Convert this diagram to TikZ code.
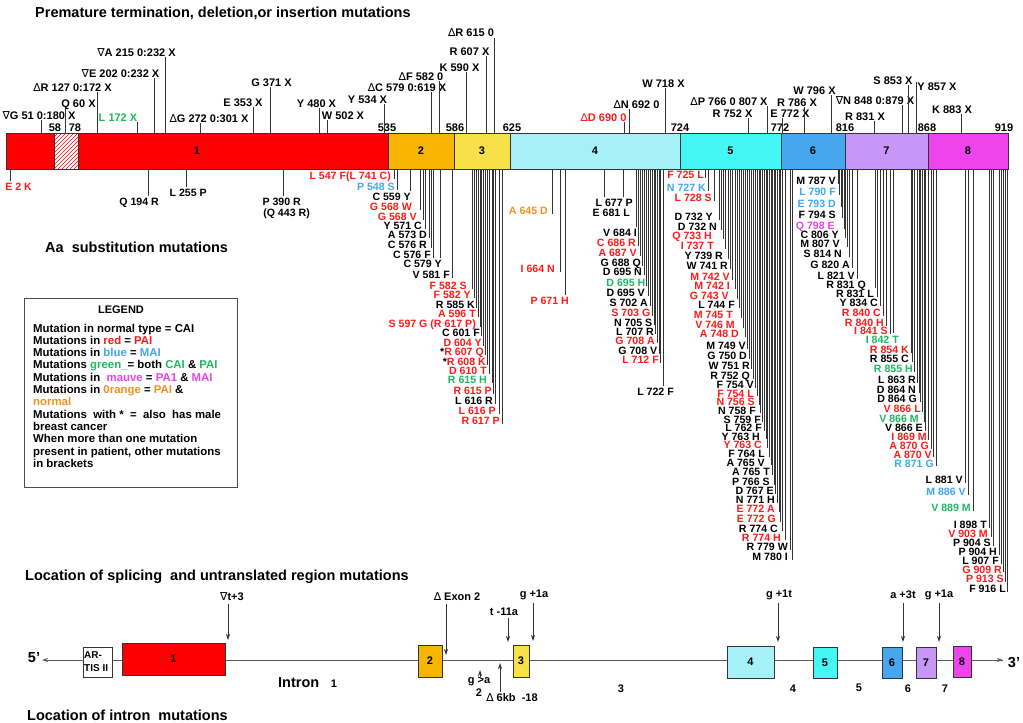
\documentclass[tikz,border=0pt]{standalone}
\usepackage{fontspec}
\setmainfont{Liberation Sans}
\newfontfamily\dvs{DejaVu Sans}
\usetikzlibrary{arrows.meta}
\definecolor{exred}{HTML}{FF0000}
\definecolor{exorange}{HTML}{F7B400}
\definecolor{exyellow}{HTML}{F8E04A}
\definecolor{exlblue}{HTML}{A6F0FA}
\definecolor{excyan}{HTML}{44F6F6}
\definecolor{exblue}{HTML}{46A6EE}
\definecolor{exmauve}{HTML}{C896F6}
\definecolor{exmag}{HTML}{EE44EE}
\definecolor{tred}{HTML}{FF1A1A}
\definecolor{tblue}{HTML}{40A8F0}
\definecolor{tgreen}{HTML}{20B860}
\definecolor{tmag}{HTML}{E844E8}
\definecolor{torange}{HTML}{F5901E}
\definecolor{lgray}{HTML}{333333}
\newcommand\Dl{{\dvs\mdseries ∆}}
\newcommand\Nb{{\dvs\mdseries ∇}}
\begin{document}
\begin{tikzpicture}[x=1pt,y=-1pt,
  font=\fontsize{11}{12}\selectfont\bfseries,
  mlab/.style={inner sep=0pt, anchor=base east, font=\fontsize{10.6}{11}\selectfont\bfseries, text height=7.4pt, text depth=0pt},
  ulab/.style={inner sep=0pt, anchor=base, text height=7.6pt, text depth=0pt},
  mline/.style={draw=lgray, line width=0.7pt},
  seg/.style={draw=lgray, line width=0.8pt, minimum height=36pt, inner sep=0pt, outer sep=0pt},
  bx/.style={draw=lgray, line width=0.8pt, inner sep=0pt, outer sep=0pt},
  ttl/.style={font=\fontsize{14.5}{16}\selectfont\bfseries, anchor=base west, inner sep=0pt},
  leg/.style={inner sep=0pt, anchor=base west, font=\fontsize{11.4}{12}\selectfont\bfseries, text height=8pt, text depth=0pt},
  gline/.style={draw=black!65, line width=1pt},
  arr/.style={draw=black!80, line width=0.8pt, -{Stealth[length=6pt,width=4pt]}}]
\useasboundingbox (0,0) rectangle (1023,723);
\fill[white] (0,0) rectangle (1023,723);

% titles
\node[ttl] (t1) at (35,17) {Premature termination, deletion,or insertion mutations};
\node[ttl] (t2) at (45,252) {Aa\ \ substitution mutations};
\node[ttl] (t3) at (25,580) {Location of splicing\ \ and untranslated region mutations};
\node[ttl] (t4) at (27,720) {Location of intron\ \ mutations};

% main bar
\node[seg, fill=exred, minimum width=382pt] (e1) at (197,151) {1};
\node[seg, fill=exorange, minimum width=66pt] (e2) at (421,151) {2};
\node[seg, fill=exyellow, minimum width=56pt] (e3) at (482,151) {3};
\node[seg, fill=exlblue, minimum width=170pt] (e4) at (595,151) {4};
\node[seg, fill=excyan, minimum width=101pt] (e5) at (730.5,151) {5};
\node[seg, fill=exblue, minimum width=64pt] (e6) at (813,151) {6};
\node[seg, fill=exmauve, minimum width=83pt] (e7) at (886.5,151) {7};
\node[seg, fill=exmag, minimum width=80pt] (e8) at (968,151) {8};
\fill[white] (54,133) rectangle (78,169);
\begin{scope}
\clip (54,133) rectangle (78,169);
\foreach \k in {0,...,16} \draw[exred, line width=0.7pt] ({18+\k*4},169) -- ++(36,-36);
\end{scope}
\draw[lgray, line width=0.8pt] (54,133) rectangle (78,169);

% boundary numbers
\foreach \bx/\bt [count=\i] in {55/58,75/78,387/535,455/586,512/625,680/724,780/772,845/816,927/868,1004/919}
  \node[ulab] (n\i) at (\bx,131) {\bt};

% upper labels
\foreach \cx/\cy/\lx/\ly/\col/\lab [count=\i] in {
39/115/41/120/black/{\Nb G 51 0:180 X},
78.5/103/65/108/black/{Q 60 X},
72.5/87/97/92/black/{\Dl R 127 0:172 X},
118/117/137/122/tgreen/{L 172 X},
120.5/73/154/78/black/{\Nb E 202 0:232 X},
136.5/52/165/57/black/{\Nb A 215 0:232 X},
209/118/200/123/black/{\Dl G 272 0:301 X},
243/102/253/107/black/{E 353 X},
271.5/82/270/87/black/{G 371 X},
316.5/103/319/108/black/{Y 480 X},
343/115/327/120/black/{W 502 X},
367.5/99/384/104/black/{Y 534 X},
407/87/431/92/black/{\Dl C 579 0:619 X},
421/76/439/81/black/{\Dl F 582 0},
459.5/67/466/72/black/{K 590 X},
469.5/51/486/56/black/{R 607 X},
471/32/494/38/black/{\Dl R 615 0},
663.5/83/665/88/black/{W 718 X},
636.5/104/629/109/black/{\Dl N 692 0},
603.5/117/624/122/tred/{\Dl D 690 0},
729/101/767/106/black/{\Dl P 766 0 807 X},
732.5/113/748/118/black/{R 752 X},
790/113/782/118/black/{E 772 X},
797/102/804/107/black/{R 786 X},
814.5/90/831/95/black/{W 796 X},
875/100/902/105/black/{\Nb N 848 0:879 X},
893/80/908/85/black/{S 853 X},
937/86/916/82/black/{Y 857 X},
865/116/874/121/black/{R 831 X},
952/109/961/114/black/{K 883 X}}
{
  \node[ulab, text=\col] (u\i) at (\cx,\cy+4) {\lab};
  \draw[mline] (\lx,\ly) -- (\lx,133);
}

% lower (substitution) labels
\foreach \lx/\ey/\rx/\yy/\col/\lab [count=\i] in {
10/181/32/187/tred/{E 2 K},
148/196/159/202/black/{Q 194 R},
186/187/207/193/black/{L 255 P},
283/196/301/202/black/{P 390 R},
394/179/391/176/tred/{L 547 F(L 741 C)},
397/190/395/187/tblue/{P 548 S},
410/191/411/197/black/{C 559 Y},
420/210/412/207/tred/{G 568 W},
423/220/417/217/tred/{G 568 V},
425/229/422/226/black/{Y 571 C},
429/238/427/235/black/{A 573 D},
431/248/427/245/black/{C 576 R},
433/258/431/255/black/{C 576 F},
440/258/442/264/black/{C 579 Y},
452/278/450/275/black/{V 581 F},
472.7/289/467/286/tred/{F 582 S},
474.7/298/471/295/tred/{F 582 Y},
476.7/308/475/305/black/{R 585 K},
478.3/317/476/314/tred/{A 596 T},
480/327/476/324/tred/{S 597 G (R 617 P)},
481.3/336/480/333/black/{C 601 F},
483.3/346/482/343/tred/{D 604 Y},
485.7/355/484/352/tred/{{\color{black}*}R 607 Q},
487.3/365/486/362/tred/{{\color{black}*}R 608 K},
489/374/487/371/tred/{D 610 T},
492/383/487/380/tgreen/{R 615 H},
493.3/394/492/391/tred/{R 615 P},
495/404/493/401/black/{L 616 R},
499/414/496/411/tred/{L 616 P},
502.3/424/500/421/tred/{R 617 P},
552/214/548/211/torange/{A 645 D},
560/272/555/269/tred/{I 664 N},
565.7/295/569/301/tred/{P 671 H},
604.7/197/633/203/black/{L 677 P},
623/197/630/213/black/{E 681 L},
636/227/637/233/black/{V 684 I},
638.3/246/636/243/tred/{C 686 R},
640.7/256/637/253/tred/{A 687 V},
642.7/266/641/263/black/{G 688 Q},
644.3/275/642/272/black/{D 695 N},
646.7/286/645.5/283/tgreen/{D 695 H},
648.3/296/645/293/black/{D 695 V},
650/306/648/303/black/{S 702 A},
652/316/650.5/313/tred/{S 703 G},
654/325/652.5/322.2/black/{N 705 S},
655.7/334/654/331.2/black/{L 707 R},
657.3/343/655/340.2/tred/{G 708 A},
659/354/657.5/351/black/{G 708 V},
660.7/363/659/360/tred/{L 712 F},
663.3/386/674/392/black/{L 722 F},
705.7/178/704/175/tred/{F 725 L},
708.3/191/706/188/tblue/{N 727 K},
714/201/712/198/tred/{L 728 S},
719/220/713/217/black/{D 732 Y},
721/230/717/227/black/{D 732 N},
723.3/239/712/236/tred/{Q 733 H},
725.7/249/714/246/tred/{I 737 T},
728.3/259/723/256/black/{Y 739 R},
730/269/728/266/black/{W 741 R},
732.3/280/730/277/tred/{M 742 V},
735/289/730/286/tred/{M 742 I},
737.3/299/729/296/tred/{G 743 V},
739.3/308/735/305/black/{L 744 F},
741/318/733/315/tred/{M 745 T},
743.3/328/735/325/tred/{V 746 M},
745/337/739/334/tred/{A 748 D},
747.7/349/746/346/black/{M 749 V},
749.3/359/747/356/black/{G 750 D},
751.7/369/750/366/black/{W 751 R},
753.7/379/750/376/black/{R 752 Q},
755.7/388/754/384.8/black/{F 754 V},
757.7/396/754/393.4/tred/{F 754 L},
759/405/755/402/tred/{N 756 S},
760.7/413/756/410.6/black/{N 758 F},
762.7/422/761/419.2/black/{S 759 F},
764/431/762/427.8/black/{L 762 F},
766/439/760/436.4/black/{Y 763 H},
767.3/448/762/445/tred/{Y 763 C},
769/457/765/453.5/black/{F 764 L},
771/465/765/462.5/black/{A 765 V},
772.3/475/770/472/black/{A 765 T},
774/485/770/482/black/{P 766 S},
775.7/494/774/491/black/{D 767 E},
777.3/503/775/500/black/{N 771 H},
779/512/775/509/tred/{E 772 A},
780.7/522/776/519/tred/{E 772 G},
782.3/531/778/528.6/black/{R 774 C},
785.7/540/781/537.6/tred/{R 774 H},
790/550/788/547/black/{R 779 W},
792.7/560/788/557/black/{M 780 I},
838/184/836/181/black/{M 787 V},
839.5/195/836/192/tblue/{L 790 F},
841/207/836/204/tblue/{E 793 D},
842.5/218/836/215/black/{F 794 S},
844/229/835/226/tmag/{Q 798 E},
845.5/238/839/235/black/{C 806 Y},
847/247/840/244/black/{M 807 V},
849/257/842/254/black/{S 814 N},
852/268/850/265/black/{G 820 A},
857/279/855/276/black/{L 821 V},
875/288/866/285/black/{R 831 Q},
877/297/874/294/black/{R 831 L},
880/306/878/303/black/{Y 834 C},
883/316/881/313/tred/{R 840 C},
886/326/884/322.4/tred/{R 840 H},
890/334/888/331.1/tred/{I 841 S},
893/333/899/340.1/tgreen/{I 842 T},
911/353/909/350/tred/{R 854 K},
912.5/362/909/359/black/{R 855 C},
914.5/372/913/369/tgreen/{R 855 H},
917.5/383/916/380/black/{L 863 R},
919/393/916/390/black/{D 864 N},
920.5/402/917/399/black/{D 864 G},
922.5/412/921/409/tred/{V 866 L},
924/422/919/419/tgreen/{V 866 M},
925.5/431/923/428/black/{V 866 E},
928.5/440/927/437/tred/{I 869 M},
931/449/929/446/tred/{A 870 G},
933.5/457/932/454.5/tred/{A 870 V},
936/466/934/463.5/tblue/{R 871 G},
965/483/963/480/black/{L 881 V},
968/495/966/492/tblue/{M 886 V},
973/511/971/508/tgreen/{V 889 M},
989/528/987/525/black/{I 898 T},
991/537/988/534/tred/{V 903 M},
993/546/991/543/black/{P 904 S},
999/555/997/552/black/{P 904 H},
1001/564/999/560.5/black/{L 907 F},
1003.5/572/1002/569.5/tred/{G 909 R},
1005.5/582/1004/579/tred/{P 913 S},
1007.5/592/1006/589/black/{F 916 L}}
{
  \draw[mline] (\lx,169) -- (\lx,\ey);
  \node[mlab, text=\col] (m\i) at (\rx,\yy+3.8) {\lab};
}
\node[mlab] (q443) at (310,216.8) {(Q 443 R)};

% legend
\node[draw=black!70, line width=0.8pt, minimum width=213pt, minimum height=189pt, inner sep=0pt, anchor=north west] (legend) at (24,298) {};
\node[inner sep=0pt] (legt) at (121,310) {LEGEND};
\node[leg] (l1) at (33,332) {Mutation in normal type = CAI};
\node[leg] (l2) at (33,344.3) {Mutations in {\color{tred}red} = {\color{tred}PAI}};
\node[leg] (l3) at (33,356.6) {Mutations in {\color{tblue}blue} = {\color{tblue}MAI}};
\node[leg] (l4) at (33,368.9) {Mutations {\color{tgreen}green\_}= both {\color{tgreen}CAI} \& {\color{tgreen}PAI}};
\node[leg] (l5) at (33,381.2) {Mutations in\ \ {\color{tmag}mauve} = {\color{tmag}PA1} \& {\color{tmag}MAI}};
\node[leg] (l6) at (33,393.5) {Mutations in {\color{torange}0range} = {\color{torange}PAI} \&};
\node[leg] (l7) at (33,405.8) {\color{torange}normal};
\node[leg] (l8) at (33,418.1) {Mutations\ \ with * \ = \ also\ \ has male};
\node[leg] (l9) at (33,430.4) {breast cancer};
\node[leg] (l10) at (33,442.7) {When more than one mutation};
\node[leg] (l11) at (33,455) {present in patient, other mutations};
\node[leg] (l12) at (33,467.3) {in brackets};

% gene structure
\draw[gline] (112,660) -- (1003,660);
\draw[gline, -{Stealth[length=6pt,width=4pt]}] (83,660) -- (42,660);
\draw[gline, -{Stealth[length=6pt,width=4pt]}] (971,660) -- (1003,660);
\node[font=\fontsize{14.5}{16}\selectfont\bfseries, inner sep=0pt] (p5) at (34,658) {5'};
\node[font=\fontsize{14.5}{16}\selectfont\bfseries, inner sep=0pt] (p3) at (1014,663) {3'};
\node[bx, fill=white, minimum width=29pt, minimum height=30pt] (artis) at (97.5,662) {};
\node[inner sep=0pt, anchor=west, font=\fontsize{10}{11}\selectfont\bfseries] (ar1) at (84,655) {AR-};
\node[inner sep=0pt, anchor=west, font=\fontsize{10}{11}\selectfont\bfseries] (ar2) at (84,668) {TIS II};
\node[bx, fill=exred, minimum width=103pt, minimum height=32pt] (b1) at (173.5,659) {1};
\node[bx, fill=exorange, minimum width=24pt, minimum height=32pt] (b2) at (430,661) {2};
\node[bx, fill=exyellow, minimum width=16pt, minimum height=32pt] (b3) at (521,661) {3};
\node[bx, fill=exlblue, minimum width=47pt, minimum height=32pt] (b4) at (750.5,662) {4};
\node[bx, fill=excyan, minimum width=24pt, minimum height=31pt] (b5) at (825,662.5) {5};
\node[bx, fill=exblue, minimum width=20pt, minimum height=31pt] (b6) at (892,662.5) {6};
\node[bx, fill=exmauve, minimum width=20pt, minimum height=31pt] (b7) at (926,662.5) {7};
\node[bx, fill=exmag, minimum width=18pt, minimum height=31pt] (b8) at (962,661.5) {8};

% splice mutation arrows
\node[inner sep=0pt] (s1) at (232,597) {\Nb t+3};
\draw[arr] (228,604) -- (228,640);
\node[inner sep=0pt] (s2) at (457,597) {\Dl\ Exon 2};
\draw[arr] (446,604) -- (446,655);
\node[inner sep=0pt] (s3) at (504,612) {t -11a};
\draw[arr] (508,618) -- (508,642);
\node[inner sep=0pt] (s4) at (534,595) {g +1a};
\draw[arr] (533,603) -- (533,641);
\node[inner sep=0pt] (s5) at (779,595) {g +1t};
\draw[arr] (778,603) -- (778,642);
\node[inner sep=0pt] (s6) at (903,595) {a +3t};
\draw[arr] (903,603) -- (903,642);
\node[inner sep=0pt] (s7) at (939,595) {g +1a};
\draw[arr] (939,603) -- (939,642);
\draw[arr] (480,677) -- (480,670);
\node[inner sep=0pt] (s8) at (479,681) {g >a};
\node[inner sep=0pt] (s8b) at (479,693) {2};
\draw[arr] (500,692) -- (500,663);
\node[inner sep=0pt] (s9) at (512,698) {\Dl\ 6kb\ \ -18};

% intron labels
\node[inner sep=0pt, anchor=west, font=\fontsize{14.5}{16}\selectfont\bfseries] (i1) at (278,683) {Intron};
\node[inner sep=0pt] (i1n) at (334,684) {1};
\node[inner sep=0pt] (i3) at (621,689) {3};
\node[inner sep=0pt] (i4) at (793,689) {4};
\node[inner sep=0pt] (i5) at (859,688) {5};
\node[inner sep=0pt] (i6) at (908,689) {6};
\node[inner sep=0pt] (i7) at (945,689) {7};
\end{tikzpicture}
\end{document}
